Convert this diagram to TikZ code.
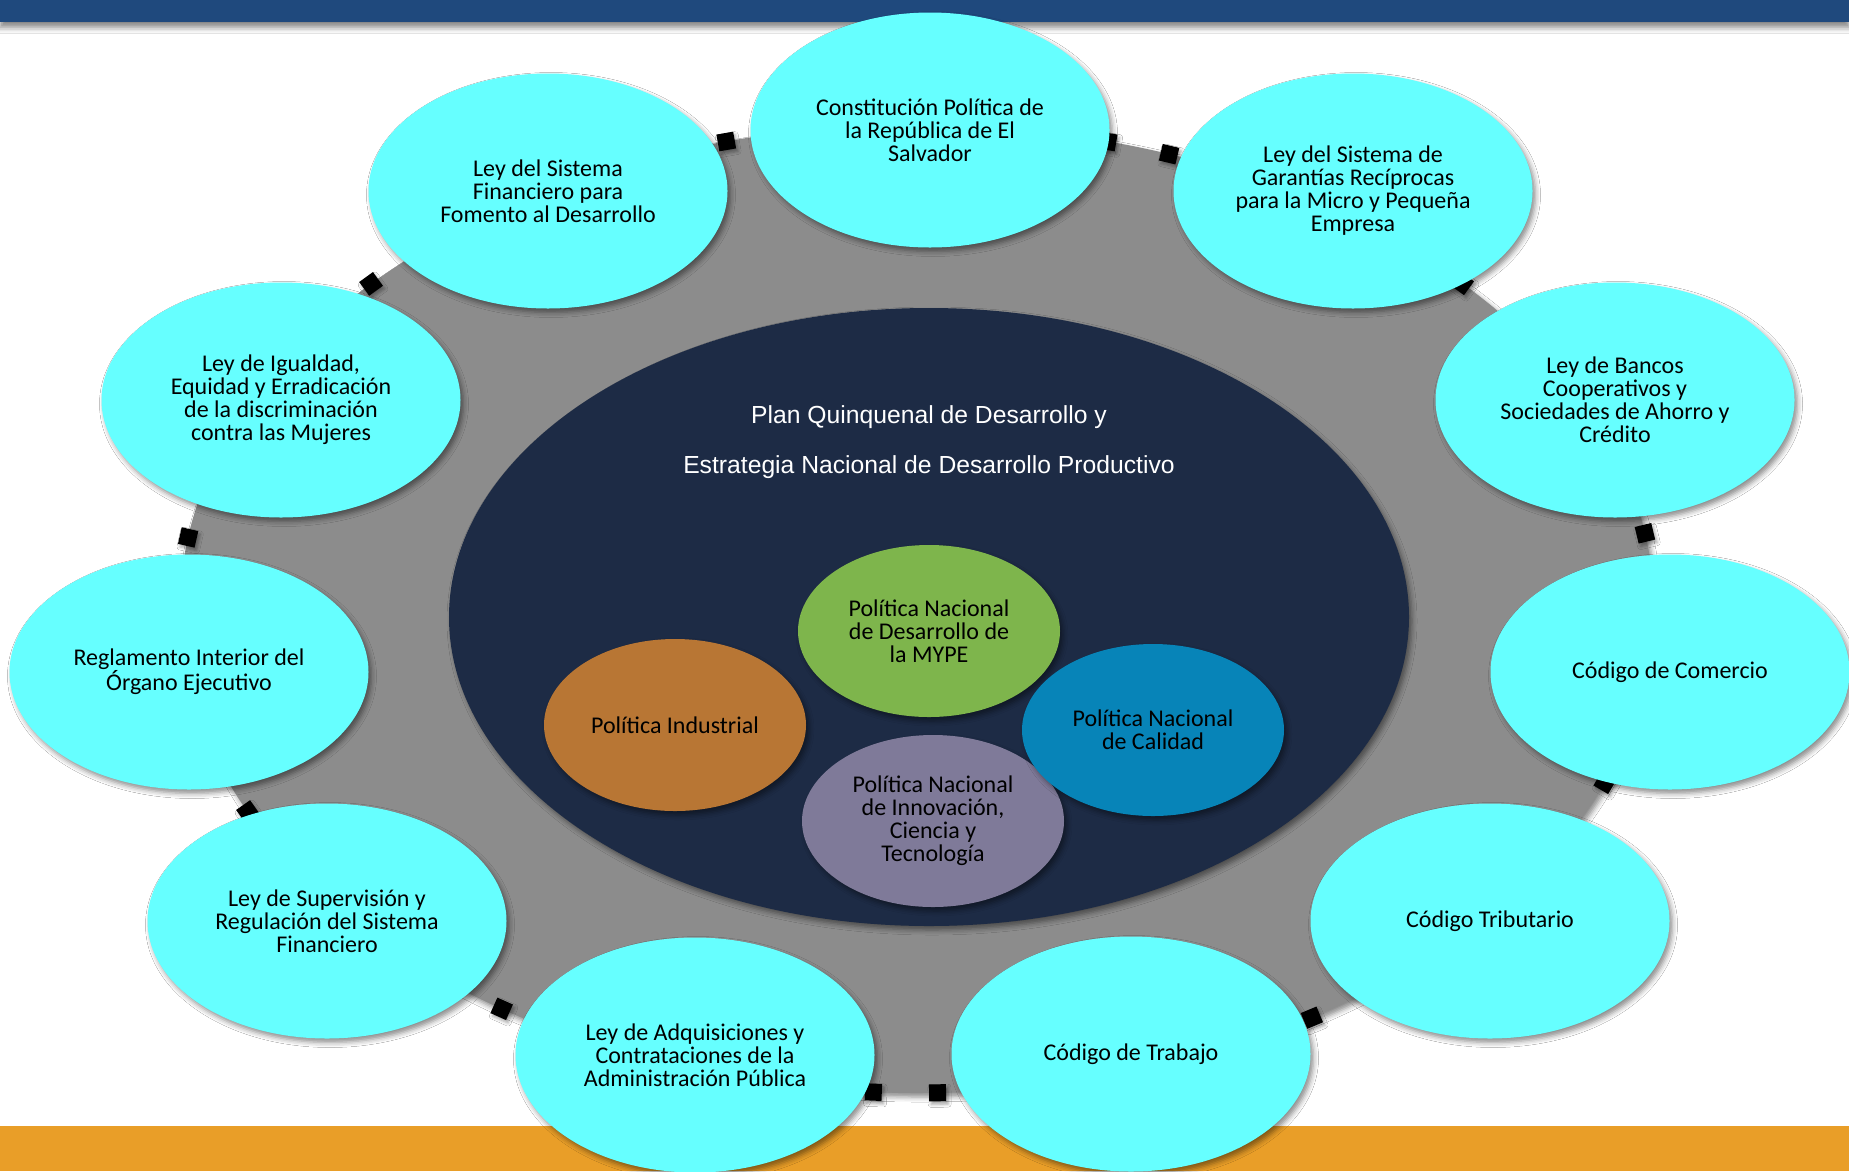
\documentclass[tikz,border=0pt]{standalone}
\usepackage{fontspec}
\setmainfont{Carlito}
\newfontfamily\arialf{Liberation Sans}
\usetikzlibrary{shapes.geometric,shadows.blur}
\definecolor{topblue}{RGB}{31,73,125}
\definecolor{botorange}{RGB}{233,158,40}
\definecolor{ringgray}{RGB}{140,140,140}
\definecolor{navyfill}{RGB}{29,43,69}
\definecolor{cyanfill}{RGB}{102,255,255}
\definecolor{greenfill}{RGB}{126,181,76}
\definecolor{orangefill}{RGB}{184,118,52}
\definecolor{bluefill}{RGB}{7,132,184}
\definecolor{purplefill}{RGB}{127,122,153}
\newcommand{\lawfont}{\fontsize{24}{23}\selectfont}
\newcommand{\titlefont}{\arialf\fontsize{24.7}{50}\selectfont}
\tikzset{
  softshadow/.style={blur shadow={shadow xshift=3pt, shadow yshift=-4pt, shadow blur radius=5pt, shadow opacity=45}},
  lawbox/.style={ellipse, fill=cyanfill, minimum width=359pt, minimum height=235pt,
    inner sep=0pt, align=center, font=\lawfont, text=black, softshadow},
  policy/.style={ellipse, minimum width=262pt, minimum height=172pt,
    inner sep=0pt, align=center, font=\lawfont, text=black, softshadow},
  sqmark/.style={rectangle, fill=black, minimum size=17pt, inner sep=0pt,
    blur shadow={shadow xshift=2pt, shadow yshift=-3pt, shadow blur radius=3pt, shadow opacity=35}},
  titletext/.style={font=\titlefont, text=white, anchor=base, inner sep=0pt}
}
\begin{document}
\begin{tikzpicture}[x=1pt,y=-1pt]
\useasboundingbox (0,0) rectangle (1849,1171);
\fill[white] (0,0) rectangle (1849,1171);
% bars
\node[rectangle, fill=botorange, minimum width=1849pt, minimum height=45pt, inner sep=0pt, anchor=north west] (botbar) at (0,1126) {};
\node[rectangle, fill=topblue, minimum width=1849pt, minimum height=22pt, inner sep=0pt, anchor=north west,
  blur shadow={shadow xshift=0pt, shadow yshift=-5pt, shadow blur radius=6pt, shadow opacity=50}] (topbar) at (0,0) {};
% gray ring
\node[ellipse, fill=ringgray, minimum width=1474pt, minimum height=968pt, inner sep=0pt, softshadow] (ring) at (917,609) {};
\foreach \t [count=\i] in {255,285,290,317.7,351,21,57.6,88.4,93.4,124.3,155.2,188.5,222.2}
  \node[sqmark, rotate={atan2(-484*cos(\t),-737*sin(\t))}] (sq\i) at ({917+737*cos(\t)},{609+484*sin(\t)}) {};
% navy plan ellipse
\node[ellipse, fill=navyfill, minimum width=960pt, minimum height=618pt, inner sep=0pt, softshadow] (plan) at (929,617) {};
\node[titletext] (title1) at (929,423) {Plan Quinquenal de Desarrollo y};
\node[titletext] (title2) at (929,473) {Estrategia Nacional de Desarrollo Productivo};
% policies
\node[policy, fill=greenfill] (mype) at (929,631) {Política Nacional\\de Desarrollo de\\la MYPE};
\node[policy, fill=orangefill] (industrial) at (675,725) {Política Industrial};
\node[policy, fill=purplefill] (innovacion) at (933,821) {Política Nacional\\de Innovación,\\Ciencia y\\Tecnología};
\node[policy, fill=bluefill] (calidad) at (1153,730) {Política Nacional\\de Calidad};
% laws
\node[lawbox] (constitucion) at (930,130) {Constitución Política de\\la República de El\\Salvador};
\node[lawbox] (financiero) at (548,191) {Ley del Sistema\\Financiero para\\Fomento al Desarrollo};
\node[lawbox] (garantias) at (1353,191) {Ley del Sistema de\\Garantías Recíprocas\\para la Micro y Pequeña\\Empresa};
\node[lawbox] (igualdad) at (281,400) {Ley de Igualdad,\\Equidad y Erradicación\\de la discriminación\\contra las Mujeres};
\node[lawbox] (bancos) at (1615,400) {Ley de Bancos\\Cooperativos y\\Sociedades de Ahorro y\\Crédito};
\node[lawbox] (reglamento) at (189,672) {Reglamento Interior del\\Órgano Ejecutivo};
\node[lawbox] (comercio) at (1670,672) {Código de Comercio};
\node[lawbox] (supervision) at (327,921) {Ley de Supervisión y\\Regulación del Sistema\\Financiero};
\node[lawbox] (tributario) at (1490,921) {Código Tributario};
\node[lawbox] (adquisiciones) at (695,1055) {Ley de Adquisiciones y\\Contrataciones de la\\Administración Pública};
\node[lawbox] (trabajo) at (1131,1054) {Código de Trabajo};
\end{tikzpicture}
\end{document}
